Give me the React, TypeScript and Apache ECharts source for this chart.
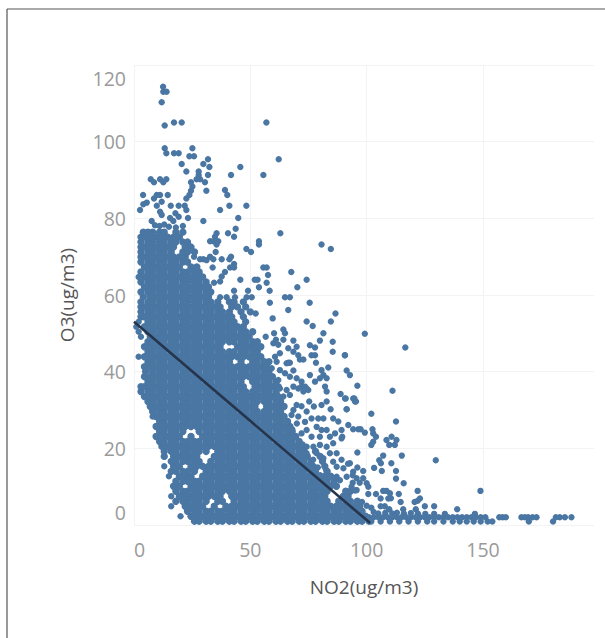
import React, { useEffect, useRef } from "react";
import * as echarts from "echarts";

const xTitle = "NO2(ug/m3)";
const yTitle = "O3(ug/m3)";
const trend = [[0, 53], [101.5, 0.5]];

// Packed part of the cloud: each row is [O3, NO2, NO2, ...]
const denseRows: number[][] = [
  [1, 26,28,31,33,36,38,41,43,46,48,51,53,56,58,61,63,66,68,71,73,76,78,81,83,86,88,91,93,96,98,101],
  [2.3, 24.5,27,29.5,32,34.5,37,39.5,42,44.5,47,49.5,52,54.5,57,59.5,62,64.5,67,69.5,72,74.5,77,79.5,82,84.5,87,89.5,92,94.5,97,99.5],
  [3.6, 23,26,28,31,33,36,38,41,43,46,48,51,53,56,58,61,63,66,68,71,73,76,78,81,83,86,88,91,93,96,98],
  [4.9, 22,24.5,27,29.5,34.5,39.5,42,44.5,47,49.5,52,54.5,57,59.5,62,64.5,67,69.5,72,74.5,77,79.5,82,84.5,87,89.5,92,94.5,97],
  [6.2, 18,21,23,26,28,31,36,38,43,46,48,51,53,56,58,61,63,66,68,71,73,76,78,81,83,88,91,93,96],
  [7.5, 19.5,22,24.5,27,29.5,32,34.5,37,42,44.5,47,49.5,52,54.5,57,59.5,62,64.5,67,69.5,72,74.5,77,79.5,82,90,92],
  [8.8, 18,21,23,26,28,31,33,36,38,41,43,46,48,51,53,56,58,61,63,66,68,71,73,76,78,81,83,91,93],
  [10.1, 17,19.5,24.5,27,29.5,32,34.5,37,39.5,42,44.5,47,49.5,52,54.5,57,59.5,62,64.5,67,69.5,72,74.5,77,79.5,82,84.5,87],
  [11.4, 18,21,23,26,28,31,33,36,38,41,43,46,48,51,53,56,58,61,63,66,68,71,73,76,78,81,83,86],
  [12.7, 19.5,22,24.5,29.5,32,34.5,37,39.5,42,44.5,47,49.5,52,54.5,57,59.5,62,64.5,67,69.5,72,74.5,77,79.5,82,84.5],
  [14, 16,18,21,23,26,31,33,36,38,41,43,46,48,51,53,56,58,61,63,66,68,71,73,76,78,83],
  [15.3, 17,19.5,24.5,27,29.5,32,34.5,37,39.5,42,44.5,47,49.5,52,54.5,57,59.5,62,64.5,67,69.5,72,74.5,77,82],
  [16.6, 16,18,21,23,26,28,33,36,38,41,43,46,48,51,53,56,58,61,63,66,68,71,73,76,81],
  [17.9, 13,17,19.5,22,24.5,27,34.5,37,39.5,42,44.5,47,49.5,52,54.5,57,59.5,62,64.5,67,69.5,72,74.5,80],
  [19.2, 13,16,18,21,23,26,28,31,36,38,41,43,46,48,51,53,56,58,61,63,66,68,71,73,78],
  [20.5, 12,14.5,17,19.5,22,24.5,27,29.5,32,34.5,37,39.5,42,44.5,47,49.5,52,54.5,57,59.5,62,64.5,67,69.5,72],
  [21.8, 11,13,16,18,21,23,26,28,31,33,36,38,41,43,46,48,51,53,56,58,61,63,66,68,71],
  [23.1, 9.5,12,14.5,17,19.5,24.5,29.5,32,34.5,37,39.5,42,44.5,47,49.5,52,54.5,57,59.5,62,64.5,67,69.5],
  [24.4, 11,13,16,18,21,28,31,33,36,38,41,43,46,48,51,53,56,58,61,63,66,68],
  [25.7, 9.5,12,14.5,17,19.5,22,24.5,27,29.5,32,34.5,37,39.5,42,44.5,47,49.5,52,54.5,57,59.5,62,64.5,67],
  [27, 11,13,16,18,21,23,26,28,31,33,36,38,41,43,46,48,51,53,56,58,61,63,66],
  [28.3, 9.5,12,14.5,17,19.5,22,24.5,27,29.5,32,34.5,37,39.5,42,44.5,47,49.5,52,54.5,57,59.5,62,64.5],
  [29.6, 8,11,13,16,18,21,23,26,28,31,33,36,38,41,43,46,48,51,53,56,58,61,63],
  [30.9, 7,9.5,12,14.5,17,19.5,22,24.5,27,29.5,32,34.5,37,39.5,42,44.5,47,49.5,52,57,59.5,62,64.5],
  [32.2, 6,8,11,13,16,18,21,23,26,28,31,33,36,38,41,43,46,48,51,53,56,58,61,63],
  [33.5, 4.5,7,9.5,12,14.5,17,19.5,22,24.5,27,29.5,32,34.5,37,39.5,42,44.5,47,49.5,52,54.5,57,59.5,62],
  [34.8, 3,6,8,11,13,16,18,21,23,26,28,31,33,36,38,41,43,46,48,51,53,56,58,61],
  [36.1, 3,4.5,7,9.5,12,14.5,17,19.5,22,24.5,27,29.5,32,34.5,37,39.5,42,44.5,47,52,54.5,57,59.5,62],
  [37.4, 6,8,11,13,16,18,21,23,26,28,31,33,36,38,41,43,46,51,53,56,58,61],
  [38.7, 4.5,7,9.5,12,14.5,17,19.5,22,24.5,27,29.5,32,34.5,37,39.5,42,44.5,47,49.5,52,54.5,57,59.5],
  [40, 5,8,11,13,16,18,21,23,26,28,31,33,36,38,41,43,46,48,51,53,56,58],
  [41.3, 4.5,7,9.5,12,14.5,17,19.5,22,24.5,27,29.5,32,34.5,37,39.5,42,44.5,47,49.5,52,54.5,57],
  [42.6, 6,8,11,13,16,18,21,23,26,28,31,33,36,38,41,46,51,53,56,58],
  [43.9, 4.5,7,9.5,12,14.5,17,19.5,22,24.5,27,29.5,32,34.5,37,39.5,42,44.5,47,49.5,52,54.5],
  [45.2, 6,8,11,13,16,18,21,23,26,28,31,33,36,38,41,43,46,48,51,53],
  [46.5, 4.5,7,9.5,12,14.5,17,19.5,22,24.5,27,29.5,32,34.5,37,44.5,47,49.5,52,54.5],
  [47.8, 6,8,11,13,16,18,21,23,26,28,31,33,36,38,41,43,46,48,51,53],
  [49.1, 7,9.5,12,14.5,17,19.5,22,24.5,27,29.5,32,34.5,37,39.5,42,44.5,47,49.5],
  [50.4, 6,8,11,13,16,18,21,23,26,28,31,33,36,38,41,43,46,48,51],
  [51.7, 4.5,7,9.5,12,14.5,17,19.5,22,24.5,27,29.5,32,34.5,37,39.5,42,44.5,47],
  [53, 6,8,11,13,16,18,21,23,26,28,31,33,36,38,41,43,48],
  [54.3, 3,4.5,7,9.5,12,14.5,17,19.5,22,24.5,27,29.5,32,34.5,37,39.5,42,47],
  [55.6, 3,6,8,11,13,16,18,21,23,26,28,31,33,36,38,41,46,50],
  [56.9, 3,4.5,7,9.5,12,14.5,17,19.5,22,24.5,27,29.5,32,34.5,37,42,44.5,48],
  [58.2, 3,6,8,11,13,16,18,21,23,26,28,31,33,36,41,43,47],
  [59.5, 4,7,9.5,12,14.5,17,19.5,22,24.5,27,29.5,32],
  [60.8, 3,6,8,11,13,16,18,21,23,26,28,31,33],
  [62.1, 4.5,7,9.5,12,14.5,17,19.5,22,24.5,27,29.5,32],
  [63.4, 3,6,8,11,13,16,18,21,23,26,28,31],
  [64.7, 4.5,7,9.5,12,14.5,17,19.5,22,24.5,27,29.5],
  [66, 3,6,8,11,13,16,18,21,23,26,28],
  [67.3, 4.5,7,9.5,12,14.5,17,19.5,24.5,27],
  [68.6, 3,6,8,11,13,16,18,21,23],
  [69.9, 3,4.5,7,9.5,12,14.5,17,19.5,22],
  [71.2, 3,6,8,11,13,16,21,23,26],
  [72.5, 3,4.5,7,9.5,12,14.5,17,22,24.5],
  [73.8, 3,6,8,11,13,16,18,21,23],
  [75.1, 3,4.5,7,9.5,12,14.5,17,19.5],
  [76.4, 4,6,8,11,13,18,21],
];

// Scattered points around the packed part: [NO2, O3]
const upperPoints: number[][] = [
  [12.5,114.3],[12.6,113],[14,113],[11.9,110.3],[13.2,104.2],[17.2,105],[20.5,105],[56.9,105],
  [13.2,98.3],[13.9,97],[17.2,97],[19.2,97],[25.1,98.3],[23.8,96.2],[25.8,96.2],[31.8,95.4],[62.2,95.4],
  [29.8,94.2],[32.4,93.4],[20.5,94.2],[22.5,92.2],[45.7,93.4],[27.8,92.2],[27.8,91.3],[31.8,91.3],[41.7,91.3],
  [55.6,91.3],[26.9,90.2],[28.4,90.2],[7.2,90.2],[8.6,89.4],[11.2,90.2],[12.6,89.4],[13.9,90.2],[24.5,89.4],
  [30.5,89.4],[25.1,88.3],[24.5,87.2],[31.1,87.2],[39.1,87.4],[40.1,86.1],[23.8,86.1],[22.5,85.2],[3.9,86.1],
  [14.5,86.1],[9.8,86.1],[11.2,86.1],[8.6,85.2],[11.9,84.3],[5.5,84.1],[4,83.7],[2.6,82.2],[15.8,83.3],
  [19.2,83.3],[21.8,83.3],[9.8,83.3],[22.5,82.2],[41,83.3],[48.3,83.3],[37,82.2],[11.2,81.7],[11.9,80.9],
  [17.8,81.3],[19.2,80.4],[23.2,80.1],[44.8,80.1],[15.5,80.1],[7.6,79.3],[29.8,79.3],[16.9,79.3],[9,78.2],
  [11,78],[13,78.4],[15,77.8],[18,77.6],[21,78],[43.7,77.3],[40.4,76.1],[43,75.2],[62.9,76.1],[80.6,73.2],
  [84.6,72],[35.5,76.1],[34.8,75.2],[32.7,74],[34.1,74],[36.2,74],[35.5,73.2],[53.7,74],[53.7,73.2],[48.3,72],
  [50.3,71.2],[35.1,71.2],[25.8,70],[28.4,69.3],[29.8,69.3],[32.7,70],[31.2,69.1],[34.1,69.3],[37.7,69.3],
  [41.7,70],[41,69.3],[33.8,67.2],[43,68.1],[41.3,67.2],[43,67.2],[55.6,67.2],[57,67.2],[67.6,66],[57.6,65.2],
  [39.1,66],[37.7,64.8],[37,63.5],[34.4,63.2],[45.7,64],[51.9,64],[53.1,64],[57,63.2],[74.2,64],[53.7,62],
  [70.2,62],[43,61.1],[49,61.1],[58.3,61.1],[37,59.4],[39.8,59.4],[43.4,59.4],[48.4,59.4],[50.6,59.4],[64.9,59.4],[67,59.4],
];

const middlePoints: number[][] = [
  [58.4,58],[75.5,58],[66.3,56.1],[86.6,55.2],[52.3,55.2],[59.6,53.9],[84.6,53.1],[74.2,53.1],[76.8,51.9],[81.4,50],
  [64.2,51],[64.9,50],[56.6,49.1],[60.2,50],[61,48.3],[68.5,48.1],[79.9,48.1],[85.4,47.8],[75.6,46.9],[69.9,46.5],
  [77.8,46.3],[85.4,45.2],[90.7,44.3],[76.3,44.3],[77.8,44.3],[71.3,43.2],[72.8,43.2],[78.2,42.3],[61.3,42.6],[66.3,42.3],
  [83.5,41.1],[80.6,40.4],[91.4,40.3],[92.8,39.1],[75.6,39.1],[68.5,40.3],[81.4,39.1],[82.8,38.3],[79.9,38.3],[77.8,37.4],
  [96,36.3],[82.1,36.1],[72,36.1],[74.2,35.6],[82.8,34.8],[88.8,34.2],[90.7,33],[94.2,33],[95,32.2],[75.3,32.2],
  [82.8,32.2],[80.6,31.3],[72,31],[77.3,30.9],[84.5,30.2],[91.4,30.2],[85.6,27.8],[92.1,26.1],[87.8,27],[94.2,25],
  [96.4,25],[89.2,24.8],[89.2,22.6],[96,18.9],[2,50.4],[1,51.7],[2,53],[3,49.1],[2,64.7],[2,43.9],[16,4.9],[16,7.5],
  [20,2.3],[15,12.7],[13,15.3],[8,28.3],
];

// Irregular clusters along the right side of the packed part
const clusterPoints: number[][] = [
  [65.6,42.2],[67,42.3],[62.7,40.4],[64.9,39.6],[67,38.7],[69.9,38.3],[72,37.4],[73.5,36.1],[74.9,35.2],[72.8,34.8],
  [70.6,35.6],[68.5,36.1],[65.6,35.2],[67,33.9],[64.2,33.5],[69.9,31.3],[68.5,30],[67.7,28.7],[70.6,28.3],[74.2,29.6],
  [76.3,27.8],[79.2,27.8],[81.4,27.8],[78.5,25.6],[80.6,24.8],[82.8,24.8],[73.5,26.9],[74.2,24.8],[72,23.9],[76.3,23],
  [79.9,23],[84.2,23],[86.4,23.9],[85.6,21.3],[79.9,20.9],[82.8,20.4],[77.1,20.4],[74.2,20.4],[74.2,18.7],[78.5,18.7],
  [84.2,18.7],[87.1,18.7],[89.2,17],[92.8,16.1],[94.2,13.9],[85.6,16.5],[81.4,17.4],[87.1,15.2],[90,14.8],[91.4,12.6],
  [95.7,12.2],[88.5,11.7],[87.1,12.6],[93.5,10],[95.7,9.1],[59.9,47.4],[62,47],[64.2,48.3],[66.3,46.1],[68.5,45.2],
  [70.6,44.3],[62.7,44.8],[60.6,43.9],[59.2,40.9],[57,39.6],[62,37.8],[62.7,35.6],[58.4,33.5],[61.3,34.3],[66,27],
  [68,25],[70,26.5],[72.5,21],[71,19],[77,17],[79,15],[80,13],[82.5,14.5],
];

const lowerRightPoints: number[][] = [
  [99.2,49.9],[116.6,46.3],[90.6,44.3],[91,33],[94.7,33],[95.4,32.2],[91.4,30.2],[111.1,35],[102,29],[112.6,27],
  [97.4,25],[99.2,24.1],[102.5,25],[102.8,23.9],[104,23],[102.8,21.7],[102,20.9],[89.5,23],[108.5,22.2],[110.7,23],
  [112.8,22.2],[109.7,20.9],[112.1,20.9],[107.1,18.1],[115.1,18.1],[129.7,16.9],[105.4,16.9],[106.1,16.1],[110.6,16.1],
  [103.2,14.9],[106.5,14.1],[112.6,14.1],[112.6,12.1],[115.9,10.9],[98.5,14.1],[98.5,12.2],[100,10.9],[100.7,10],
  [121.9,8.9],[148.9,8.9],[107.1,8.9],[108.5,8.9],[110,8.3],[100.7,8.1],[104,8.1],[113.8,8.1],[106,6.9],[109.3,6.9],
  [110.4,7],[122.9,6.9],[121.9,6.3],[120.6,6],[114.6,6],[125,4.9],[129,4.9],[106,4.9],[107.8,4.9],[138.9,4.1],
  [121.1,4.1],[115.7,4.1],[109.7,4.1],[146.5,2.9],[133.6,2.9],[129,2.9],[125.2,2.9],[98,6],[100,5],[102,4.5],[95,9],
  [97,11],[94,13],[96,15],[92,16],[94,11],[103,3.4],[105,3],[108,3.2],[111,3],[113,3.2],[116,3],[119,3.1],[122,3],
];

const bottomRunX = [101,103,105,107,109,111,113,115,117,119,121,123,125,127,129,131,133,135,137,139,141,143,145,147,149,151,157,158.4,159.8,166.5,168,169.4,171.3,173,181.3,183,185.2,188];
const bottomRunLowX = [102,106,110,114,118,122,126,129,133,137,140,143,146,149,152,154,169.7,180.1];

const packed: number[][] = denseRows.flatMap((row) => row.slice(1).map((x) => [x, row[0]]));
const scattered: number[][] = [
  ...upperPoints,
  ...middlePoints,
  ...clusterPoints,
  ...lowerRightPoints,
  ...bottomRunX.map((x) => [x, 2]),
  ...bottomRunLowX.map((x) => [x, 0.9]),
];

export default function App() {
  const ref = useRef<HTMLDivElement>(null);
  useEffect(() => {
    const chart = echarts.init(ref.current!, undefined, { renderer: "svg" });
    const tick = { color: "#9a9a9a", fontFamily: "Open Sans", fontSize: 19.5 };
    const name = { color: "#555", fontFamily: "Open Sans", fontSize: 19 };
    const dot = { color: "#4a76a3", opacity: 1 };
    chart.setOption({
      animation: false,
      backgroundColor: "#fff",
      grid: { left: 134, top: 65, width: 460, height: 460 },
      graphic: [
        { type: "line", shape: { x1: 7, y1: 9, x2: 7, y2: 638 }, style: { stroke: "#777", lineWidth: 1.5 } },
        { type: "line", shape: { x1: 7, y1: 9, x2: 605, y2: 9 }, style: { stroke: "#555", lineWidth: 1.2 } },
      ],
      xAxis: {
        type: "value", min: 0, max: 197.7, interval: 50,
        name: xTitle, nameLocation: "middle", nameGap: 52, nameTextStyle: name,
        axisLine: { show: false }, axisTick: { show: false },
        axisLabel: { ...tick, margin: 14, showMaxLabel: false, alignMinLabel: "left" },
        splitLine: { showMaxLine: false, lineStyle: { color: "#f1f3f5", width: 1 } },
      },
      yAxis: {
        type: "value", min: 0, max: 120, interval: 20,
        name: yTitle, nameLocation: "middle", nameGap: 58, nameTextStyle: name,
        axisLine: { show: false }, axisTick: { show: false },
        axisLabel: { ...tick, margin: 8, lineHeight: 26, verticalAlignMinLabel: "bottom", verticalAlignMaxLabel: "top" },
        splitLine: { lineStyle: { color: "#f1f3f5", width: 1 } },
      },
      series: [
        { type: "scatter", data: packed, symbolSize: 7.4, clip: false, silent: true, itemStyle: dot },
        { type: "scatter", data: scattered, symbolSize: 6.4, clip: false, silent: true, itemStyle: dot },
        {
          type: "line", data: trend, symbol: "none", silent: true,
          lineStyle: { color: "#26354b", width: 2.6 }, z: 5,
        },
      ],
    });
    return () => chart.dispose();
  }, []);
  return <div ref={ref} style={{ position: "absolute", left: 0, top: 0, width: 605, height: 638 }} />;
}
